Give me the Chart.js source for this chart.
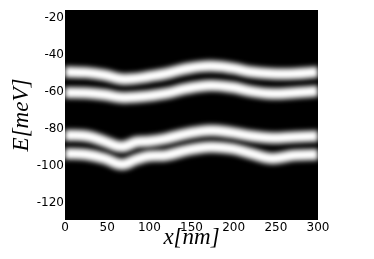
<!DOCTYPE html>
<html>
<head>
<meta charset="utf-8">
<script src="https://cdn.jsdelivr.net/npm/chart.js@4/dist/chart.umd.min.js"></script>
<style>
html,body{margin:0;padding:0;background:#fff;}
canvas{display:block;}
</style>
</head>
<body>
<canvas id="c" width="374" height="259"></canvas>
<script>
// Data (x in nm, energy in meV)
const xPositions = [0, 25, 47, 67, 85, 100, 120, 145, 172, 198, 221, 245, 272, 300];
const band1 = [-49.4, -49.7, -51.0, -53.1, -52.8, -51.8, -50.2, -47.5, -46.2, -47.3, -49.4, -50.3, -50.3, -49.4];
const band2 = [-60.5, -60.7, -61.6, -63.1, -62.8, -62.2, -60.9, -58.2, -56.6, -57.6, -59.8, -61.0, -60.5, -59.6];
const band3 = [-83.4, -83.8, -86.7, -89.6, -87.0, -86.6, -85.2, -82.5, -80.8, -82.0, -83.8, -84.9, -84.3, -83.8];
const band4 = [-93.3, -93.8, -95.9, -99.1, -96.3, -94.6, -94.2, -91.4, -89.7, -90.6, -93.3, -95.9, -94.2, -93.8];
const xTickValues = [0, 50, 100, 150, 200, 250, 300];
const yTickValues = [-120, -100, -80, -60, -40, -20];
const xRange = [0, 300];
const yRange = [-129, -16];

const toPts = arr => arr.map((y, i) => ({x: xPositions[i], y: y}));

function bandDataset(arr) {
  return {
    data: toPts(arr),
    borderColor: '#ffffff',
    borderWidth: 11,
    pointRadius: 0,
    tension: 0.4,
    fill: false
  };
}

const glowPlugin = {
  id: 'glow',
  beforeDatasetsDraw(chart) {
    const {ctx, chartArea: a} = chart;
    ctx.save();
    ctx.fillStyle = '#000';
    ctx.fillRect(a.left, a.top, a.right - a.left, a.bottom - a.top);
    ctx.filter = 'blur(2.8px)';
  },
  afterDatasetsDraw(chart) {
    chart.ctx.restore();
  }
};

const tickFont = {family: 'DejaVu Sans', size: 12};
const titleFont = {family: 'Liberation Serif', size: 23, style: 'italic'};

new Chart(document.getElementById('c'), {
  type: 'line',
  data: {
    datasets: [bandDataset(band1), bandDataset(band2), bandDataset(band3), bandDataset(band4)]
  },
  options: {
    responsive: false,
    animation: false,
    layout: {padding: {left: 0, right: 56, top: 10, bottom: 0}},
    plugins: {legend: {display: false}, tooltip: {enabled: false}},
    scales: {
      x: {
        type: 'linear',
        min: xRange[0], max: xRange[1],
        grid: {display: false, drawTicks: false},
        border: {display: false},
        afterBuildTicks: s => { s.ticks = xTickValues.map(v => ({value: v})); },
        afterFit: s => { s.height = 39; },
        ticks: {font: tickFont, color: '#000', padding: 1, maxRotation: 0, autoSkip: false},
        title: {display: true, text: 'x[nm]', font: titleFont, color: '#000', padding: {top: 0, bottom: 7}}
      },
      y: {
        type: 'linear',
        min: yRange[0], max: yRange[1],
        grid: {display: false, drawTicks: false},
        border: {display: false},
        afterBuildTicks: s => { s.ticks = yTickValues.map(v => ({value: v})); },
        afterFit: s => { s.width = 65; },
        ticks: {font: tickFont, color: '#000', padding: 1, autoSkip: false},
        title: {display: true, text: 'E[meV]', font: titleFont, color: '#000', padding: {top: 8, bottom: 0}}
      }
    }
  },
  plugins: [glowPlugin]
});
</script>
</body>
</html>
